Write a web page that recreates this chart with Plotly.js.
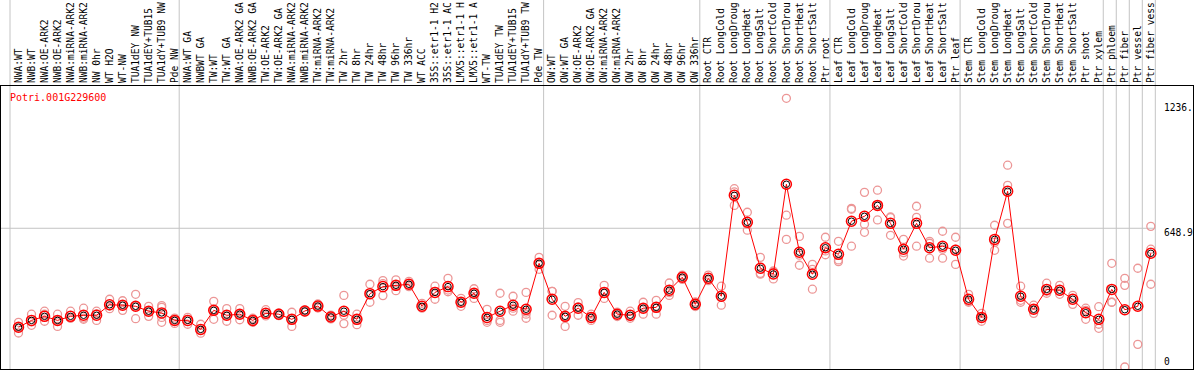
<!DOCTYPE html>
<html><head><meta charset="utf-8">
<script src="https://cdn.plot.ly/plotly-3.0.1.min.js"></script>
<style>html,body{margin:0;padding:0;background:#fff;overflow:hidden}#chart{width:1194px;height:370px}</style>
</head><body><div id="chart"></div>
<script>
const geneId = 'Potri.001G229600';

const categories = [
 'NWA:WT','NWB:WT','NWA:OE-ARK2','NWB:OE-ARK2','NWA:miRNA-ARK2','NWB:miRNA-ARK2','NW 0hr','WT H2O','WT-NW','TUA1dEY NW','TUA1dEY+TUB15 NW','TUA1dY+TUB9 NW','Pde NW',
 'NWA:WT GA','NWBWT GA','TW:WT','TW:WT GA','NWA:OE-ARK2 GA','NWB:OE-ARK2 GA','TW:OE-ARK2','TW:OE-ARK2 GA','NWA:miRNA-ARK2 GA','NWB:miRNA-ARK2 GA','TW:miRNA-ARK2','TW:miRNA-ARK2 GA',
 'TW 2hr','TW 8hr','TW 24hr','TW 48hr','TW 96hr','TW 336hr','WT ACC','35S::etr1-1 H2O','35S::etr1-1 ACC','LMX5::etr1-1 H2O','LMX5::etr1-1 ACC','WT-TW','TUA1dEY TW','TUA1dEY+TUB15 TW','TUA1dY+TUB9 TW','Pde TW',
 'OW:WT','OW:WT GA','OW:OE-ARK2','OW:OE-ARK2 GA','OW:miRNA-ARK2','OW:miRNA-ARK2 GA','OW 2hr','OW 8hr','OW 24hr','OW 48hr','OW 96hr','OW 336hr',
 'Root CTR','Root LongCold','Root LongDrought','Root LongHeat','Root LongSalt','Root ShortCold','Root ShortDrought','Root ShortHeat','Root ShortSalt','Ptr root',
 'Leaf CTR','Leaf LongCold','Leaf LongDrought','Leaf LongHeat','Leaf LongSalt','Leaf ShortCold','Leaf ShortDrought','Leaf ShortHeat','Leaf ShortSalt','Ptr leaf',
 'Stem CTR','Stem LongCold','Stem LongDrought','Stem LongHeat','Stem LongSalt','Stem ShortCold','Stem ShortDrought','Stem ShortHeat','Stem ShortSalt','Ptr shoot','Ptr xylem',
 'Ptr phloem','Ptr fiber','Ptr vessel','Ptr fiber vessel'
];

const meanValues = [
 186,218,237,218,237,242,242,291,289,284,261,253,218,
 218,176,265,242,247,218,251,247,223,262,285,234,
 261,223,343,376,382,387,284,349,376,303,345,232,261,289,270,485,
 317,237,275,232,349,247,242,275,279,359,420,293,
 415,331,803,677,462,435,855,537,434,558,
 527,682,705,756,672,551,672,558,565,546,
 317,232,597,822,331,270,363,359,317,254,223,
 363,268,284,532
];

const replicateValues = [
 [209,187,159],[247,211,195],[261,247,214],[247,218,190],[261,228,229],[275,223,229],[261,218,248],[317,273,285],[310,265,290],[340,226,285],[284,237,261],[287,279,232,209],[229,218,204],
 [232,200,223],[200,158,172],[307,223,265],[273,214,239],[273,221,246],[228,218,209],[268,239,248],[253,247,240],[256,190,223],[267,262,257],[295,285,276],[243,234,225],
 [335,242,203],[247,198,225],[387,303,339],[404,334,390],[408,357,380],[401,376,384],[298,275,279],[378,317,354],[415,352,360],[321,284,303],[366,321,346],[270,209,218],[345,218,209],[331,261,275],[349,247,228,257],[513,457,485],
 [354,242,354],[284,190,237],[301,242,281],[247,232,218],[382,321,345],[257,247,236],[261,228,237],[303,247,275],[312,247,279],[393,335,348],[430,410,418],[304,293,283],
 [430,410,404],[378,289,326],[834,756,819],[724,640,668],[513,434,438],[444,412,449],[1257,710,597],[611,476,523],[480,364,457],[607,525,543],
 [588,493,501],[742,565,738],[817,668,630],[827,688,755],[702,616,699],[597,519,535],[752,700,565],[579,509,588],[635,509,551],[607,480,551],
 [340,303,307],[251,214,232],[663,546,583],[944,672,850],[378,303,312],[289,270,251],[392,345,354],[382,340,354],[335,293,321],[265,223,275],[282,200,181],
 [485,303,303],[415,382,0],[462,106],[658,551,387]
];

const groupStarts = [0,13,41,53,63,73,84,85,86,87,88];
const yTickVals = [0, 648.9, 1236];
const yTickText = ['0', '648.9', '1236.'];
const labelChars = 14;

const idx = categories.map((_, i) => i);
const shownLabels = categories.map(c => c.slice(0, labelChars));
const repX = [], repY = [];
replicateValues.forEach((arr, i) => arr.forEach(v => { repX.push(i); repY.push(v); }));

const FONT = 'DejaVu Sans Mono, monospace';
const xRange = [-1.3446, 90.242];
const yRange = [-9.36, 1314.5];
const sepOffset = -0.653;

const traces = [
 {x: repX, y: repY, type: 'scatter', mode: 'markers', hoverinfo: 'skip',
  marker: {symbol: 'circle-open', size: 8, color: 'rgb(236,150,150)', line: {width: 1.3}}},
 {x: idx, y: meanValues, type: 'scatter', mode: 'lines+markers',
  line: {color: '#ff0000', width: 1},
  marker: {symbol: 'circle-open', size: 10, color: '#ff0000', line: {width: 1.5}}},
 {x: idx, y: meanValues, type: 'scatter', mode: 'markers', hoverinfo: 'skip',
  marker: {symbol: 'circle-open', size: 6.5, color: '#000000', line: {width: 1}}}
];

const shapes = groupStarts.map(k => ({
 type: 'line', xref: 'x', yref: 'paper', x0: k + sepOffset, x1: k + sepOffset, y0: 0, y1: 1.4,
 line: {color: '#c4c4c4', width: 1}, layer: 'below'
}));
shapes.push({type: 'line', xref: 'x', yref: 'y', x0: xRange[0], x1: 88 + sepOffset, y0: yTickVals[1], y1: yTickVals[1],
 line: {color: '#c4c4c4', width: 1}, layer: 'below'});

const annotations = yTickVals.map((v, i) => ({
 xref: 'paper', yref: 'y', x: 0.9748, y: v, xanchor: 'left', yanchor: v === 0 ? 'bottom' : 'top',
 text: yTickText[i], showarrow: false, font: {family: FONT, size: 9.6, color: '#000'}, borderpad: 0, yshift: v === 0 ? -1 : 2
}));

const layout = {
 width: 1194, height: 370,
 margin: {l: 1, r: 1, t: 86, b: 1, pad: 0},
 paper_bgcolor: '#fff', plot_bgcolor: '#fff',
 showlegend: false,
 title: {text: geneId, x: 10/1194, xanchor: 'left', y: 1 - 97/370, yanchor: 'middle',
  font: {family: FONT, size: 10, color: '#ff0000'}},
 xaxis: {range: xRange, side: 'top', tickmode: 'array', tickvals: idx, ticktext: shownLabels, tickangle: -90,
  tickfont: {family: FONT, size: 9.6, color: '#000'}, ticks: '', showgrid: false, zeroline: false,
  showline: true, mirror: true, linecolor: '#000', linewidth: 1, automargin: false, fixedrange: true},
 yaxis: {range: yRange, showgrid: false, zeroline: false, showticklabels: false, ticks: '',
  showline: true, mirror: true, linecolor: '#000', linewidth: 1, automargin: false, fixedrange: true},
 shapes: shapes,
 annotations: annotations
};

Plotly.newPlot('chart', traces, layout, {displayModeBar: false, staticPlot: true});
</script>
</body></html>
